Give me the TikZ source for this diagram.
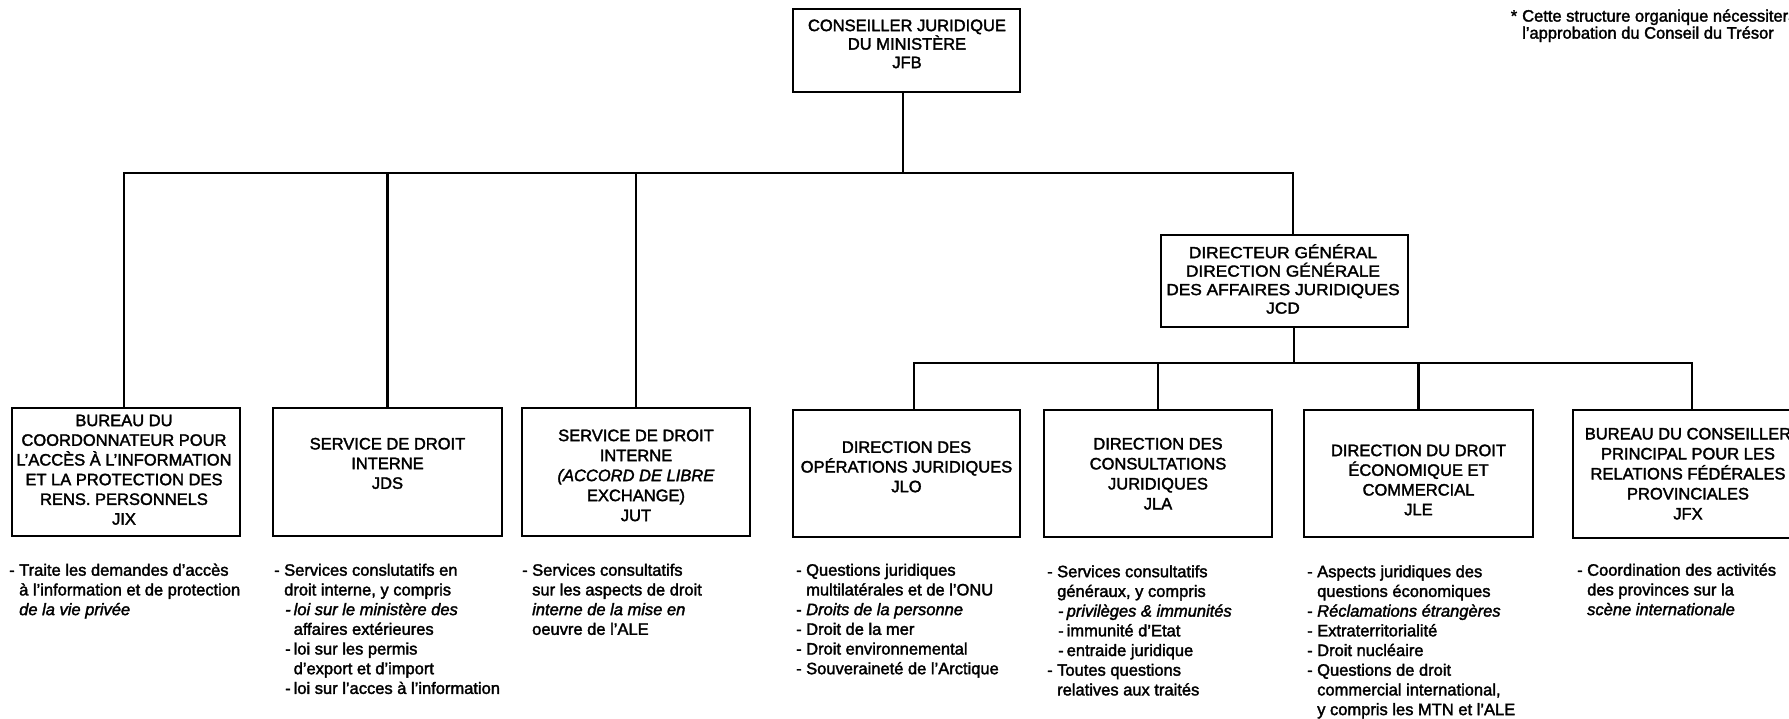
\documentclass[tikz,border=0pt]{standalone}
\usepackage{fontspec}
\setmainfont{Liberation Sans}[FakeBold=2]
\newcommand{\xxfs}{\fontsize{16.5}{19.7}\selectfont}
\newcommand{\xxst}{\rule{0pt}{16pt}}
\newcommand{\xxd}{\makebox[10pt][l]{-}}
\newcommand{\xxi}{\hspace*{10pt}}
\newcommand{\xxsd}{\hspace*{11pt}\makebox[8.5pt][l]{-}}
\newcommand{\xxsi}{\hspace*{19.5pt}}
\begin{document}
\begin{tikzpicture}[x=1pt,y=-1pt,
  box/.style={draw, line width=2.8pt, rectangle, inner sep=0pt},
  conn/.style={line width=2.4pt},
  btext/.style={anchor=north, align=center, inner sep=0pt, font=\xxfs},
  desc/.style={anchor=north west, align=left, inner sep=0pt, font=\xxfs}]
\useasboundingbox (0,0) rectangle (1789,718);
\clip (0,0) rectangle (1789,718);
% boxes
\node[box, minimum width=227pt, minimum height=83pt] (jfb) at (906.5,50.5) {};
\node[box, minimum width=247pt, minimum height=92pt] (jcd) at (1284.5,281) {};
\node[box, minimum width=228pt, minimum height=128pt] (jix) at (126,472) {};
\node[box, minimum width=229pt, minimum height=128pt] (jds) at (387.5,472) {};
\node[box, minimum width=228pt, minimum height=128pt] (jut) at (636,472) {};
\node[box, minimum width=227pt, minimum height=127pt] (jlo) at (906.5,473.5) {};
\node[box, minimum width=228pt, minimum height=127pt] (jla) at (1158,473.5) {};
\node[box, minimum width=229pt, minimum height=127pt] (jle) at (1418.5,473.5) {};
\node[box, minimum width=238pt, minimum height=128pt] (jfx) at (1692,474) {};
% box texts
\node[btext, font=\fontsize{16.5}{18.5}\selectfont] (jfbt) at (907,14.9) {\xxst CONSEILLER JURIDIQUE\\DU MINISTÈRE\\JFB};
\node[btext, font=\addfontfeature{FakeStretch=1.08}\fontsize{16}{18.5}\selectfont] (jcdt) at (1283,241.9) {\xxst DIRECTEUR GÉNÉRAL\\DIRECTION GÉNÉRALE\\DES AFFAIRES JURIDIQUES\\JCD};
\node[btext] (jixt) at (124,409.9) {\xxst BUREAU DU\\COORDONNATEUR POUR\\L'ACCÈS À L'INFORMATION\\ET LA PROTECTION DES\\RENS. PERSONNELS\\JIX};
\node[btext] (jdst) at (387.5,433.2) {\xxst SERVICE DE DROIT\\INTERNE\\JDS};
\node[btext, font=\fontsize{16.5}{20}\selectfont] (jutt) at (636,424.9) {\xxst SERVICE DE DROIT\\INTERNE\\\textit{(ACCORD DE LIBRE}\\EXCHANGE)\\JUT};
\node[btext] (jlot) at (906.5,436.6) {\xxst DIRECTION DES\\OPÉRATIONS JURIDIQUES\\JLO};
\node[btext, font=\fontsize{16.5}{20}\selectfont] (jlat) at (1158,433.2) {\xxst DIRECTION DES\\CONSULTATIONS\\JURIDIQUES\\JLA};
\node[btext] (jlet) at (1418.5,439.9) {\xxst DIRECTION DU DROIT\\ÉCONOMIQUE ET\\COMMERCIAL\\JLE};
\node[btext, font=\fontsize{16.5}{20}\selectfont] (jfxt) at (1688,423.2) {\xxst BUREAU DU CONSEILLER\\PRINCIPAL POUR LES\\RELATIONS FÉDÉRALES\\PROVINCIALES\\JFX};
% connectors
\coordinate (bus1) at (0,173);
\coordinate (bus2) at (0,363);
\draw[conn] ([xshift=-3.5pt]jfb.south) -- ([xshift=-3.5pt]jfb.south |- bus1);
\draw[conn] ([xshift=-2pt]jix.north) |- ([xshift=8.5pt]jcd.north |- bus1) -- ([xshift=8.5pt]jcd.north);
\draw[conn] (jds.north) -- (jds.north |- bus1);
\draw[conn] (jut.north) -- (jut.north |- bus1);
\draw[conn] ([xshift=9.5pt]jcd.south) -- ([xshift=9.5pt]jcd.south |- bus2);
\draw[conn] ([xshift=7.5pt]jlo.north) |- (jfx.north |- bus2) -- (jfx.north);
\draw[conn] (jla.north) -- (jla.north |- bus2);
\draw[conn] (jle.north) -- (jle.north |- bus2);
% descriptions
\node[desc] (jixd) at (9,559.5) {\xxst\xxd Traite les demandes d'accès\\\xxi à l'information et de protection\\\xxi\textit{de la vie privée}};
\node[desc] (jdsd) at (274,559.5) {\xxst\xxd Services conslutatifs en\\\xxi droit interne, y compris\\\textit{\xxsd loi sur le ministère des}\\\xxsi affaires extérieures\\\xxsd loi sur les permis\\\xxsi d'export et d'import\\\xxsd loi sur l'acces à l'information};
\node[desc] (jutd) at (522,559.5) {\xxst\xxd Services consultatifs\\\xxi sur les aspects de droit\\\xxi\textit{interne de la mise en}\\\xxi oeuvre de l'ALE};
\node[desc] (jlod) at (796,559.5) {\xxst\xxd Questions juridiques\\\xxi multilatérales et de l'ONU\\\xxd\textit{Droits de la personne}\\\xxd Droit de la mer\\\xxd Droit environnemental\\\xxd Souveraineté de l'Arctique};
\node[desc] (jlad) at (1047,561) {\xxst\xxd Services consultatifs\\\xxi généraux, y compris\\\xxsd\textit{privilèges \& immunités}\\\xxsd immunité d'Etat\\\xxsd entraide juridique\\\xxd Toutes questions\\\xxi relatives aux traités};
\node[desc] (jled) at (1307,561) {\xxst\xxd Aspects juridiques des\\\xxi questions économiques\\\xxd\textit{Réclamations étrangères}\\\xxd Extraterritorialité\\\xxd Droit nucléaire\\\xxd Questions de droit\\\xxi commercial international,\\\xxi y compris les MTN et l'ALE};
\node[desc] (jfxd) at (1577,559.5) {\xxst\xxd Coordination des activités\\\xxi des provinces sur la\\\xxi\textit{scène internationale}};
% footnote
\node[desc, font=\fontsize{16.5}{17}\selectfont] (note) at (1522,5.4) {\xxst\llap{*\hspace{5pt}}Cette structure organique nécessitera\\l'approbation du Conseil du Trésor};
\end{tikzpicture}
\end{document}
